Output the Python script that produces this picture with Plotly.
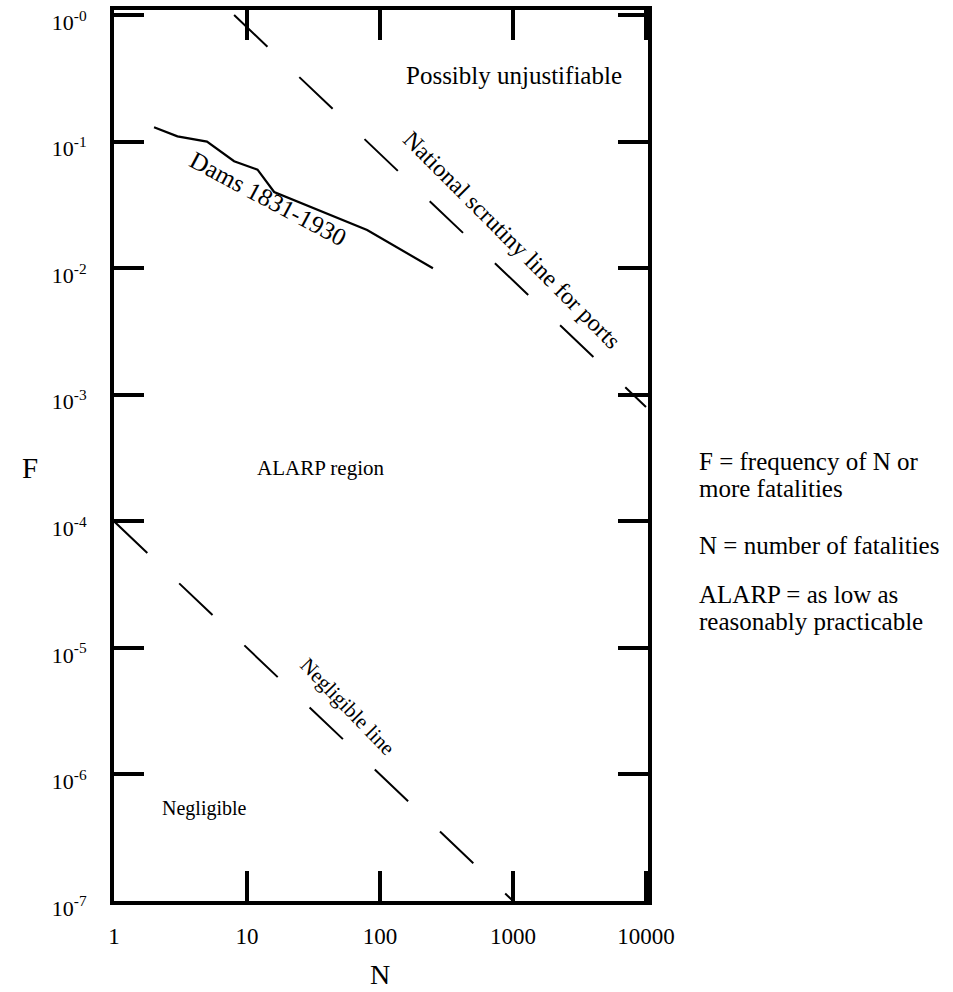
import plotly.graph_objects as go

# ---- data ----
x_tickvals = [1, 10, 100, 1000, 10000]
x_ticktext = ["1", "10", "100", "1000", "10000"]
y_tickvals = [1e-7, 1e-6, 1e-5, 1e-4, 1e-3, 1e-2, 1e-1, 1e0]
y_ticktext = ["10<sup>-7</sup>", "10<sup>-6</sup>", "10<sup>-5</sup>", "10<sup>-4</sup>",
              "10<sup>-3</sup>", "10<sup>-2</sup>", "10<sup>-1</sup>", "10<sup>-0</sup>"]

dams_n = [2, 3, 5, 8, 12, 16, 80, 250]
dams_f = [0.13, 0.11, 0.10, 0.07, 0.06, 0.04, 0.02, 0.01]

national_n = [8, 10000]
national_f = [1, 8e-4]

negligible_n = [1, 1000]
negligible_f = [1e-4, 1e-7]

FONT = "Liberation Serif, Times New Roman, serif"

# target plot area in page pixels (body margin removed below)
L, R, T, B = 114, 648, 10, 901
W, H = 953, 992


def px(x):
    return (x - L) / (R - L)


def py(y):
    return (B - y) / (B - T)


fig = go.Figure()
fig.add_trace(go.Scatter(x=dams_n, y=dams_f, mode="lines",
                         line=dict(color="black", width=2.2), hoverinfo="skip"))
fig.add_trace(go.Scatter(x=national_n, y=national_f, mode="lines",
                         line=dict(color="black", width=2, dash="46px,44px"), hoverinfo="skip"))
fig.add_trace(go.Scatter(x=negligible_n, y=negligible_f, mode="lines",
                         line=dict(color="black", width=2, dash="46px,44px"), hoverinfo="skip"))

ann = []


def add(text, x, y, size=24, angle=0, xanchor="center", yanchor="middle", align="center"):
    ann.append(dict(text=text, x=px(x), y=py(y), xref="paper", yref="paper",
                    showarrow=False, textangle=angle, xanchor=xanchor, yanchor=yanchor,
                    align=align, font=dict(family=FONT, size=size, color="black")))


add("Possibly unjustifiable", 514, 75, size=25)
add("National scrutiny line for ports", 512, 240, size=24, angle=45)
add("Dams 1831-1930", 268, 198, size=25, angle=28)
add("ALARP region", 320, 468, size=21)
add("Negligible line", 347, 706, size=21, angle=46)
add("Negligible", 204, 808, size=20)
add("F = frequency of N or", 697, 461, size=25, xanchor="left")
add("more fatalities", 697, 488, size=25, xanchor="left")
add("N = number of fatalities", 697, 545, size=25, xanchor="left")
add("ALARP = as low as", 697, 594, size=25, xanchor="left")
add("reasonably practicable", 697, 621, size=25, xanchor="left")
add("F", 30, 468, size=29)
add("N", 380, 974, size=28)

fig.update_layout(
    width=W, height=H,
    margin=dict(l=L, r=W - R, t=T, b=H - B),
    paper_bgcolor="white", plot_bgcolor="white",
    showlegend=False,
    annotations=ann,
    font=dict(family=FONT, color="black"),
)
fig.update_xaxes(type="log", range=[0, 4.015], tickvals=x_tickvals, ticktext=x_ticktext,
                 showgrid=False, zeroline=False, showline=True, linecolor="black", linewidth=4,
                 mirror="ticks", ticks="inside", ticklen=30, tickwidth=4, tickcolor="black",
                 automargin=False, ticklabeloverflow="allow",
                 tickfont=dict(family=FONT, size=23, color="black"), ticklabelstandoff=11)
fig.update_yaxes(type="log", range=[-7, 0.04], tickvals=y_tickvals, ticktext=y_ticktext,
                 showgrid=False, zeroline=False, showline=True, linecolor="black", linewidth=4,
                 mirror="ticks", ticks="inside", ticklen=30, tickwidth=4, tickcolor="black",
                 automargin=False, ticklabeloverflow="allow", ticklabelshift=7,
                 tickfont=dict(family=FONT, size=22, color="black"), ticklabelstandoff=19)

fig.write_html("out.html", config={"displayModeBar": False},
               post_script="document.body.style.margin='0px';document.body.style.overflow='hidden';")
